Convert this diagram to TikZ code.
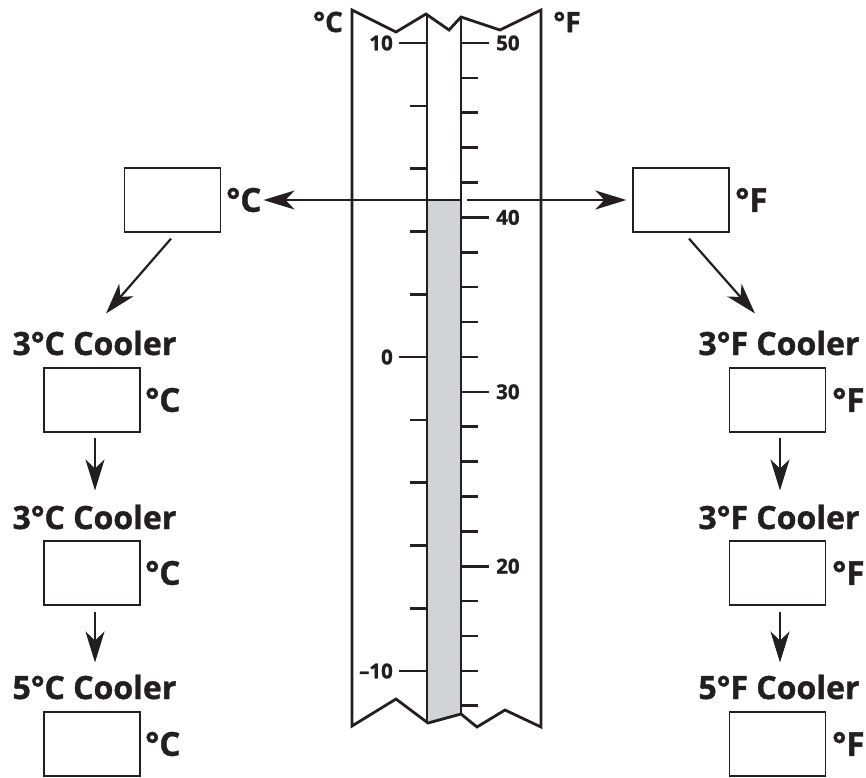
\documentclass[tikz,border=0pt]{standalone}
\usepackage{fontspec}
\setmainfont{Open Sans}[BoldFeatures={FakeBold=1.2}]
\usetikzlibrary{arrows.meta}
\definecolor{ink}{HTML}{231F20}
\definecolor{merc}{HTML}{D1D3D4}
\begin{document}
\begin{tikzpicture}[x=1pt,y=-1pt,
  ansbox/.style={draw=ink,line width=1.3pt,minimum width=96pt,minimum height=64pt,inner sep=0pt},
  head/.style={font=\fontsize{32pt}{32pt}\selectfont\bfseries,text=ink,inner sep=0pt,anchor=base},
  unit/.style={font=\fontsize{33pt}{33pt}\selectfont\bfseries,text=ink,inner sep=0pt,anchor=west},
  toplab/.style={font=\fontsize{28pt}{28pt}\selectfont\bfseries,text=ink,inner sep=0pt},
  num/.style={font=\fontsize{20.5pt}{20.5pt}\selectfont\bfseries,text=ink,inner sep=0pt},
  tube/.style={draw=ink,line width=2.8pt,line join=miter},
  tick/.style={draw=ink,line width=2.6pt},
  arr/.style={draw=ink,line width=2.2pt,-{Stealth[length=31pt,width=19pt,inset=9pt]}}]
\useasboundingbox (0,0) rectangle (866,777);
% mercury column
\fill[merc] (427,200) -- (461,200) -- (461,714) -- (428,723) -- cycle;
% thermometer outline
\draw[tube] (352,10) -- (396,32) -- (426,14) -- (449,30) -- (461,17) -- (500,30) -- (541,10)
  -- (541,727) -- (505,710) -- (477,727) -- (461,714) -- (428,723) -- (396,699) -- (352,726) -- cycle;
\draw[tube] (427,14) -- (427,723);
\draw[tube] (461,17) -- (461,714);
% Celsius ticks (every 2 degrees)
\foreach \k in {0,...,10}{
  \pgfmathsetmacro{\yy}{43+62.8*\k}
  \pgfmathtruncatemacro{\m}{mod(\k,5)}
  \ifnum\m=0 \draw[tick] (399,\yy) -- (427,\yy);
  \else \draw[tick] (410,\yy) -- (427,\yy);\fi
}
% Fahrenheit ticks (every 2 degrees)
\foreach \k in {0,...,19}{
  \pgfmathsetmacro{\yy}{43+34.88*\k}
  \pgfmathtruncatemacro{\m}{mod(\k,5)}
  \ifnum\m=0 \draw[tick] (461,\yy) -- (489,\yy);
  \else \draw[tick] (461,\yy) -- (478,\yy);\fi
}
% scale labels
\node[num,anchor=east] (c10) at (393,43) {10};
\node[num,anchor=east] (c0) at (393,357) {0};
\node[num,anchor=east] (cm10) at (393,671) {–10};
\node[num,anchor=west] (f50) at (496,43) {50};
\node[num,anchor=west] (f40) at (496,217.4) {40};
\node[num,anchor=west] (f30) at (496,391.8) {30};
\node[num,anchor=west] (f20) at (496,566.2) {20};
\node[toplab] (topC) at (328,22) {°C};
\node[toplab] (topF) at (567,22) {°F};
% reading coordinates
\coordinate (mercL) at (461,200);
\coordinate (mercR) at (467,200);
% top boxes
\node[ansbox] (bC0) at (172.5,200) {};
\node[unit] (uC0) at (226,200) {°C};
\node[ansbox] (bF0) at (681,200) {};
\node[unit] (uF0) at (735,200) {°F};
\draw[arr] (mercL) -- ([xshift=2pt]uC0.east);
\draw[arr] (mercR) -- ([xshift=-6pt]bF0.west);
% left column
\node[head] (hC1) at (94.5,355) {3°C Cooler};
\node[ansbox] (bC1) at (92,400) {};
\node[unit] (uC1) at (145,400) {°C};
\node[head] (hC2) at (94.5,529) {3°C Cooler};
\node[ansbox] (bC2) at (92,573) {};
\node[unit] (uC2) at (145,573) {°C};
\node[head] (hC3) at (94.5,699) {5°C Cooler};
\node[ansbox] (bC3) at (92,744) {};
\node[unit] (uC3) at (145,744) {°C};
% right column
\node[head] (hF1) at (779,355) {3°F Cooler};
\node[ansbox] (bF1) at (777.5,400) {};
\node[unit] (uF1) at (832,400) {°F};
\node[head] (hF2) at (779,529) {3°F Cooler};
\node[ansbox] (bF2) at (777.5,573) {};
\node[unit] (uF2) at (832,573) {°F};
\node[head] (hF3) at (779,699) {5°F Cooler};
\node[ansbox] (bF3) at (777.5,744) {};
\node[unit] (uF3) at (832,744) {°F};
% arrows
\draw[arr] ([shift={(-1.5,6)}]bC0.south) -- ([shift={(11.5,-17)}]hC1.north);
\draw[arr] ([shift={(8,6)}]bF0.south) -- ([shift={(-24,-17)}]hF1.north);
\draw[arr] ([shift={(3,5)}]bC1.south) -- ([shift={(0.5,-14)}]hC2.north);
\draw[arr] ([shift={(3,6)}]bC2.south) -- ([shift={(0.5,-12)}]hC3.north);
\draw[arr] ([shift={(2.5,5)}]bF1.south) -- ([shift={(1,-14)}]hF2.north);
\draw[arr] ([shift={(2.5,6)}]bF2.south) -- ([shift={(1,-12)}]hF3.north);
\end{tikzpicture}
\end{document}
